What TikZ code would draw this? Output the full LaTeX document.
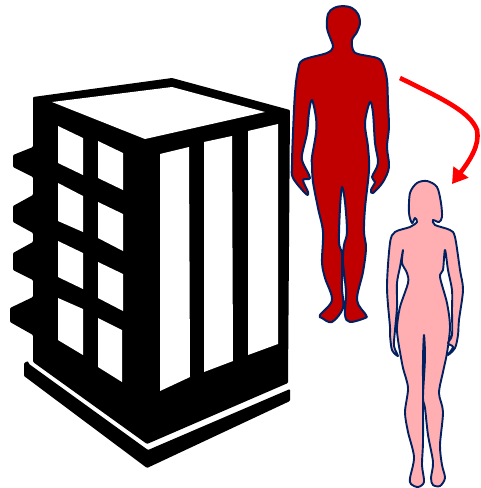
\documentclass[tikz,border=0pt]{standalone}
\usetikzlibrary{arrows.meta}
\definecolor{manred}{HTML}{C00000}
\definecolor{womanpink}{HTML}{FFAFB2}
\definecolor{outlineblue}{HTML}{002060}
\tikzset{
  blk/.style={fill=black,draw=none,rounded corners=1pt},
  win/.style={fill=white,draw=none},
  man/.style={fill=manred,draw=outlineblue,line width=2pt,line join=round},
  woman/.style={fill=womanpink,draw=outlineblue,line width=1.9pt,line join=round},
  change/.style={draw=red,line width=4.6pt,-{Triangle[length=15pt,width=18pt]}}
}
\begin{document}
\begin{tikzpicture}[x=1pt,y=-1pt]
\useasboundingbox (0,0) rectangle (481,488);
% building body
\path[blk] (33,97) -- (172,78) -- (290,110) -- (288,383) -- (147,444) -- (33,362) -- (33,335)
  -- (10,322) -- (10,308) -- (33,297) -- (33,280) -- (13,270) -- (13,253) -- (33,242)
  -- (33,233) -- (13,222) -- (13,206) -- (33,195) -- (33,177) -- (13,167) -- (13,155)
  -- (33,147) -- cycle;
% base
\path[blk] (24,363) -- (28,361) -- (29,364) -- (148,450) -- (290,389) -- (290,401) -- (147,468) -- (24,376) -- cycle;
% roof
\path[win] (52,102) -- (172,87) -- (265,112) -- (145,139) -- cycle;
% side windows
\path[win] (58,126) -- (83,138) -- (83,175) -- (58,163) -- cycle;
\path[win] (98,141) -- (123,153) -- (123,190) -- (98,178) -- cycle;
\path[win] (58,183) -- (83,196) -- (83,232) -- (58,221) -- cycle;
\path[win] (98,202) -- (123,214) -- (123,251) -- (98,238) -- cycle;
\path[win] (58,241) -- (83,253) -- (83,289) -- (58,277) -- cycle;
\path[win] (98,262) -- (123,274) -- (123,311) -- (98,298) -- cycle;
\path[win] (58,298) -- (83,309) -- (83,355) -- (58,340) -- cycle;
\path[win] (98,318) -- (122,330) -- (122,382) -- (98,367) -- cycle;
% front windows
\path[win] (160,154) -- (189,147) -- (190,377) -- (160,391) -- cycle;
\path[win] (204,142) -- (232,136) -- (233,361) -- (204,372) -- cycle;
\path[win] (248,131) -- (278,124) -- (278,344) -- (248,355) -- cycle;
% man
\draw[man] plot[smooth cycle,tension=0.55] coordinates {
 (343,6) (352,8) (358,14) (360,23) (357,32) (352,40) (353,50) (358,54) (377,58) (383,64) (387,80) (388,105) (389,127) (387,147) (389,167)
 (383,182) (373,193) (371,190) (375,182) (372,177) (378,163) (375,143) (373,113) (370,102) (365,123)
 (368,147) (369,170) (365,208) (364,232) (366,248) (363,272) (357,300) (366,315) (365,318) (350,322)
 (345,315) (346,292) (343,262) (344,245) (347,232) (345,202) (342,187) (340,208) (339,242) (342,255)
 (342,288) (343,308) (332,322) (322,318) (320,315) (332,300) (325,278) (322,262) (323,232) (318,208)
 (313,182) (312,165) (312,157) (316,133) (316,118) (312,100) (309,112) (307,133) (302,155) (303,163)
 (310,178) (303,180) (308,192) (306,194) (293,178) (292,165) (293,133) (295,93) (298,70) (303,60)
 (327,53) (333,47) (331,40) (327,28) (328,14) (334,8)};
% woman
\draw[woman] plot[smooth cycle,tension=0.5] coordinates {
 (427,181) (437,187) (441,203) (442,217) (439,222) (433,220) (435,225) (450,230) (455,237) (460,270)
 (463,290) (459,320) (458,335) (455,348) (448,355) (453,347) (448,343) (452,335) (452,310) (452,290)
 (448,270) (445,250) (443,270) (440,277) (447,303) (450,327) (447,353) (443,372) (439,393) (443,412)
 (440,445) (442,465) (445,478) (440,486) (433,485) (431,478) (433,462) (428,435) (425,408) (423,397)
 (425,358) (424,335) (423,358) (423,397) (423,442) (422,465) (424,482) (418,487) (411,484) (410,478)
 (414,457) (408,432) (405,412) (408,388) (403,368) (400,352) (398,340) (397,327) (400,307) (408,283)
 (407,273) (402,263) (403,250) (400,267) (397,283) (397,307) (395,330) (394,346) (398,356) (392,350)
 (390,335) (390,327) (387,287) (390,243) (395,232) (410,227) (417,222) (415,218) (412,223) (409,213)
 (410,193) (417,183)};
% arrow
\coordinate (from) at (400,78);
\coordinate (to) at (452,184);
\draw[change] (from) .. controls (445,100) and (470,112) .. (477,130) .. controls (480,145) and (470,160) .. (to);
\end{tikzpicture}
\end{document}
